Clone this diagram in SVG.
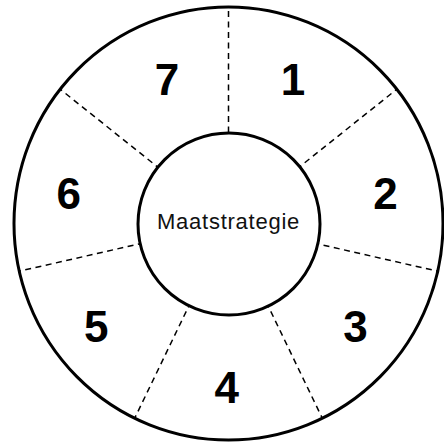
<svg xmlns="http://www.w3.org/2000/svg" width="444" height="442" viewBox="0 0 444 442">
  <style>
    .ring { fill: none; stroke: #000; stroke-width: 3; }
    .hub { fill: #fff; stroke: #000; stroke-width: 3; }
    .div { stroke: #000; stroke-width: 1.5; stroke-dasharray: 6 4.5; fill: none; }
    .num { font-family: "Liberation Sans", Arial, sans-serif; font-weight: bold; font-size: 44px; fill: #000; text-anchor: middle; }
    .lbl { font-family: "Liberation Sans", Arial, sans-serif; font-size: 22px; letter-spacing: 0.75px; fill: #111; text-anchor: middle; }
  </style>
  <rect width="444" height="442" fill="#fff"/>
  <g id="outer-ring">
    <ellipse class="ring" cx="228.5" cy="223.5" rx="214.5" ry="216.5"/>
  </g>
  <g id="connectors">
    <line class="div" x1="228.5" y1="132.5" x2="228.5" y2="8.5"/>
    <line class="div" x1="296.5" y1="169.3" x2="396.6" y2="89.4"/>
    <line class="div" x1="313.3" y1="242.9" x2="438.6" y2="271.4"/>
    <line class="div" x1="266.2" y1="301.9" x2="321.8" y2="417.2"/>
    <line class="div" x1="190.8" y1="301.9" x2="135.2" y2="417.2"/>
    <line class="div" x1="143.7" y1="242.9" x2="18.4" y2="271.4"/>
    <line class="div" x1="160.5" y1="169.3" x2="60.4" y2="89.4"/>
  </g>
  <g id="center">
    <circle class="hub" cx="229" cy="224" r="91"/>
    <text class="lbl" x="228.5" y="228.5">Maatstrategie</text>
  </g>
  <g id="seg-1"><text class="num" x="293" y="94.5">1</text></g>
  <g id="seg-2"><text class="num" x="385.5" y="208.5">2</text></g>
  <g id="seg-3"><text class="num" x="355.5" y="341.5">3</text></g>
  <g id="seg-4"><text class="num" x="226.7" y="403">4</text></g>
  <g id="seg-5"><text class="num" x="96.3" y="341.5">5</text></g>
  <g id="seg-6"><text class="num" x="68.7" y="209">6</text></g>
  <g id="seg-7"><text class="num" x="167" y="94.5">7</text></g>
</svg>
